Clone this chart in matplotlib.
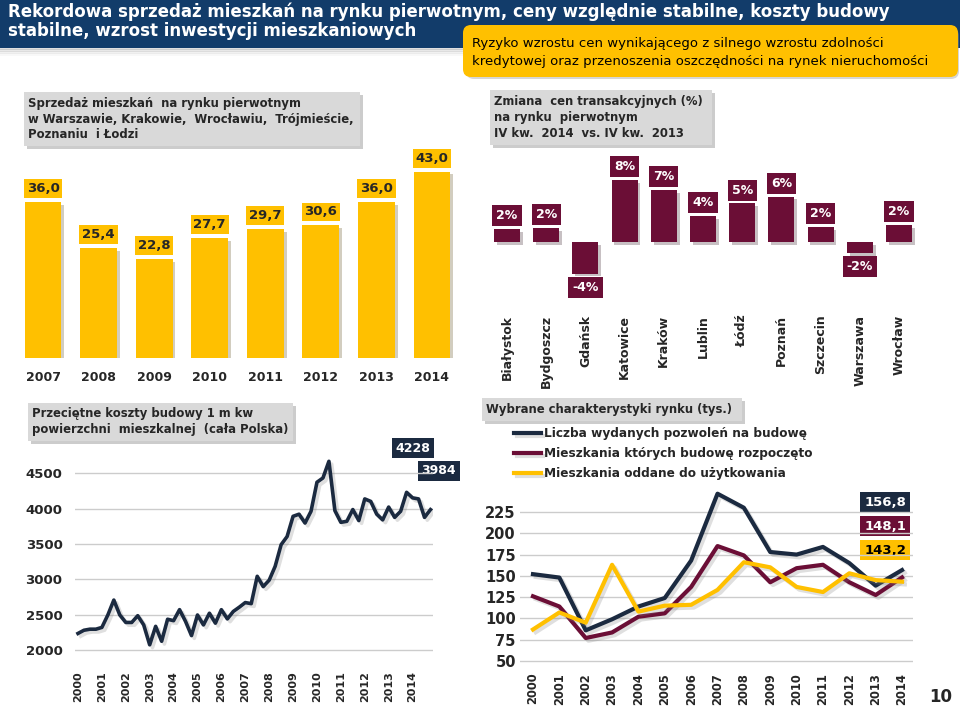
"""
slide 10: rynek mieszkaniowy - 4 wykresy na jednym slajdzie
"""
import matplotlib as mpl
mpl.use('Agg')
import matplotlib.pyplot as plt
from matplotlib.patches import Rectangle, FancyBboxPatch
import matplotlib.patheffects as pe

plt.rcParams['font.family'] = ['DejaVu Sans']

W, H = 960, 707
HEAD = '#123c6a'
NAVY = '#1b2a40'
MAROON = '#6b0e36'
YELLOW = '#ffc000'
GRID = '#cccccc'
TXT = '#262626'

# --- dane ---
sales_years = ['2007', '2008', '2009', '2010', '2011', '2012', '2013', '2014']
sales = [36.0, 25.4, 22.8, 27.7, 29.7, 30.6, 36.0, 43.0]

cities = ['Białystok', 'Bydgoszcz', 'Gdańsk', 'Katowice', 'Kraków', 'Lublin',
          'Łódź', 'Poznań', 'Szczecin', 'Warszawa', 'Wrocław']
price_change = [1.7, 1.8, -4.1, 8.0, 6.7, 3.4, 5.0, 5.9, 1.9, -1.4, 2.2]
price_labels = ['2%', '2%', '-4%', '8%', '7%', '4%', '5%', '6%', '2%', '-2%', '2%']

# koszt budowy 1 m kw, kwartalnie 2000 Q1 - 2014 Q4
cost = [2240, 2285, 2300, 2300, 2325, 2500, 2710, 2500,
        2395, 2395, 2490, 2360, 2080, 2340, 2130, 2440,
        2420, 2575, 2410, 2210, 2500, 2360, 2525, 2385,
        2575, 2445, 2550, 2610, 2675, 2660, 3045, 2900,
        2990, 3185, 3490, 3605, 3890, 3920, 3795, 3960,
        4370, 4430, 4665, 3970, 3805, 3820, 3985, 3830,
        4135, 4100, 3920, 3840, 4020, 3875, 3960, 4228,
        4150, 4135, 3875, 3984]
cost_quarters = [2000 + i / 4 for i in range(len(cost))]
cost_labels = [4228, 3984]

market_years = list(range(2000, 2015))
permits = [152, 148, 86, 99, 114, 124, 168, 246.5, 230, 178, 175, 184, 165, 138.5, 156.8]
started = [126, 114, 77, 83.5, 102, 106, 137, 185, 174, 142.5, 159, 163, 142.5, 127.5, 148.1]
completed = [87, 107, 95, 163, 108, 115, 116, 133.5, 166, 160, 137, 131, 153, 145, 143.2]
market_names = ['Liczba wydanych pozwoleń na budowę',
                'Mieszkania których budowę rozpoczęto',
                'Mieszkania oddane do użytkowania']

fig = plt.figure(figsize=(W / 100, H / 100), dpi=100, facecolor='white')

# tlo w pikselach (naglowek, ramki tytulow)
bg = fig.add_axes([0, 0, 1, 1], zorder=0)
bg.set_xlim(0, W)
bg.set_ylim(H, 0)
bg.axis('off')


def px_axes(left, top, right, bottom):
    ax = fig.add_axes([left / W, 1 - bottom / H, (right - left) / W, (bottom - top) / H], zorder=2)
    ax.patch.set_alpha(0)
    for s in ax.spines.values():
        s.set_visible(False)
    return ax


def title_box(x, y, w, h, text, fs=8.4):
    bg.add_patch(Rectangle((x + 3, y + 3), w, h, fc='#9a9a9a', ec='none', alpha=0.5))
    bg.add_patch(Rectangle((x, y), w, h, fc='#d9d9d9', ec='none'))
    bg.text(x + 4, y + h / 2, text, ha='left', va='center', fontsize=fs,
            fontweight='bold', color=TXT, linespacing=1.3)


# naglowek
for i, a in enumerate([0.25, 0.18, 0.11, 0.05]):
    bg.add_patch(Rectangle((0, 47 + i * 2), 470, 3, fc='gray', ec='none', alpha=a))
bg.add_patch(Rectangle((0, 0), W, 48, fc=HEAD, ec='none'))
bg.text(8, 12, 'Rekordowa sprzedaż mieszkań na rynku pierwotnym, ceny względnie stabilne, koszty budowy',
        color='white', fontsize=12, fontweight='bold', va='center', ha='left')
bg.text(8, 31, 'stabilne, wzrost inwestycji mieszkaniowych',
        color='white', fontsize=12, fontweight='bold', va='center', ha='left')
bg.add_patch(FancyBboxPatch((466, 28), 493, 51, boxstyle='round,pad=0,rounding_size=8',
                            fc='#999999', ec='none', alpha=0.4))
bg.add_patch(FancyBboxPatch((463, 25), 495, 52, boxstyle='round,pad=0,rounding_size=8',
                            fc=YELLOW, ec='none'))
bg.text(472, 44, 'Ryzyko wzrostu cen wynikającego z silnego wzrostu zdolności',
        fontsize=9.5, va='center', ha='left', color='black')
bg.text(472, 61, 'kredytowej oraz przenoszenia oszczędności na rynek nieruchomości',
        fontsize=9.5, va='center', ha='left', color='black')

title_box(24, 92, 336, 54, 'Sprzedaż mieszkań  na rynku pierwotnym\n'
          'w Warszawie, Krakowie,  Wrocławiu,  Trójmieście,\nPoznaniu  i Łodzi')
title_box(490, 90, 222, 55, 'Zmiana  cen transakcyjnych (%)\nna rynku  pierwotnym\n'
          'IV kw.  2014  vs. IV kw.  2013')
title_box(28, 403, 265, 38, 'Przeciętne koszty budowy 1 m kw\npowierzchni  mieszkalnej  (cała Polska)')
title_box(482, 398, 260, 23, 'Wybrane charakterystyki rynku (tys.)')

bar_shadow = [pe.SimplePatchShadow(offset=(2, -2), alpha=0.25), pe.Normal()]
line_shadow = [pe.SimpleLineShadow(offset=(2, -2), alpha=0.25, shadow_color='gray'), pe.Normal()]

# --- 1. sprzedaz mieszkan ---
ax1 = px_axes(22, 150, 453, 358)
xs = range(len(sales))
bars = ax1.bar(xs, sales, width=0.665, color=YELLOW)
for b in bars:
    b.set_path_effects(bar_shadow)
for i, v in enumerate(sales):
    ax1.annotate(f'{v:.1f}'.replace('.', ','), xy=(i, v), xytext=(0, 5), textcoords='offset points',
                 ha='center', va='bottom', fontsize=9.5, fontweight='bold', color=TXT,
                 bbox=dict(boxstyle='square,pad=0.22', fc=YELLOW, ec='none'))
ax1.set_xlim(-0.378, 7.378)
ax1.set_ylim(0, 48)
ax1.set_xticks(list(xs), sales_years, fontsize=9, fontweight='bold', color=TXT)
ax1.set_yticks([])
ax1.tick_params(axis='x', length=0, pad=9)

# --- 2. zmiana cen ---
ax2 = px_axes(487.4, 145, 918.6, 305)
xs = range(len(cities))
bars = ax2.bar(xs, price_change, width=0.66, color=MAROON)
for b in bars:
    b.set_path_effects(bar_shadow)
for i, (v, lab) in enumerate(zip(price_change, price_labels)):
    off = 5 if v >= 0 else -5
    ax2.annotate(lab, xy=(i, v), xytext=(0, off), textcoords='offset points', ha='center',
                 va='bottom' if v >= 0 else 'top', fontsize=9, fontweight='bold', color='white',
                 bbox=dict(boxstyle='square,pad=0.32', fc=MAROON, ec='none'))
ax2.set_xlim(-0.5, 10.5)
ax2.set_ylim(-8.17, 12.58)
ax2.set_xticks(list(xs), cities, rotation=90, fontsize=9, fontweight='bold', color=TXT, va='top')
ax2.set_yticks([])
ax2.tick_params(axis='x', length=0, pad=7)

# --- 3. koszty budowy ---
ax3 = px_axes(75, 440, 433, 660)
ax3.plot(cost_quarters, cost, color=NAVY, lw=2.6, solid_joinstyle='round', path_effects=line_shadow)
ax3.set_xlim(1999.875, 2014.855)
ax3.set_ylim(1866, 4965)
ax3.set_yticks(range(2000, 5000, 500))
ax3.set_xticks(market_years, [str(y) for y in market_years], rotation=90)
ax3.grid(axis='y', color=GRID, lw=1)
ax3.set_axisbelow(True)
ax3.tick_params(length=0)
ax3.tick_params(axis='y', pad=9, labelsize=9.5, labelcolor=TXT)
ax3.tick_params(axis='x', pad=8, labelsize=8, labelcolor=TXT)
for t in ax3.get_xticklabels() + ax3.get_yticklabels():
    t.set_fontweight('bold')
bg.text(413, 448, str(cost_labels[0]), ha='center', va='center', fontsize=9, fontweight='bold',
        color='white', bbox=dict(boxstyle='square,pad=0.3', fc=NAVY, ec='none'))
bg.text(439, 471, str(cost_labels[1]), ha='center', va='center', fontsize=9, fontweight='bold',
        color='white', bbox=dict(boxstyle='square,pad=0.3', fc=NAVY, ec='none'))

# --- 4. charakterystyki rynku ---
ax4 = px_axes(520, 420, 913, 670)
for series, col, name in zip([permits, started, completed], [NAVY, MAROON, YELLOW], market_names):
    ax4.plot(market_years, series, color=col, lw=3, label=name, path_effects=line_shadow)
ax4.set_xlim(1999.507, 2014.416)
ax4.set_ylim(39.4, 333.1)
ax4.set_yticks(range(50, 226, 25))
ax4.set_xticks(market_years, [str(y) for y in market_years], rotation=90)
ax4.grid(axis='y', color=GRID, lw=1)
ax4.set_axisbelow(True)
ax4.tick_params(length=0)
ax4.tick_params(axis='y', pad=3, labelsize=10.5, labelcolor=TXT)
ax4.tick_params(axis='x', pad=2, labelsize=8.3, labelcolor=TXT)
for t in ax4.get_xticklabels() + ax4.get_yticklabels():
    t.set_fontweight('bold')
ax4.legend(loc='upper left', bbox_to_anchor=(514 / W, 1 - 427 / H), bbox_transform=fig.transFigure,
           frameon=False, borderpad=0, borderaxespad=0, handlelength=2.2, handletextpad=0.3,
           labelspacing=0.6, prop={'size': 8.7, 'weight': 'bold'}, labelcolor=TXT)

end_cols = [(NAVY, 'white'), (MAROON, 'white'), (YELLOW, 'black')]
for k, (series, (fc, tc)) in enumerate(zip([permits, started, completed], end_cols)):
    bg.text(885, 502 + k * 24, f'{series[-1]:.1f}'.replace('.', ','), ha='center', va='center',
            fontsize=9.5, fontweight='bold', color=tc,
            bbox=dict(boxstyle='square,pad=0.3', fc=fc, ec='none'))

bg.text(941, 697, '10', ha='center', va='center', fontsize=12, fontweight='bold', color=TXT)

fig.savefig('out.png', dpi=100, facecolor='white')
